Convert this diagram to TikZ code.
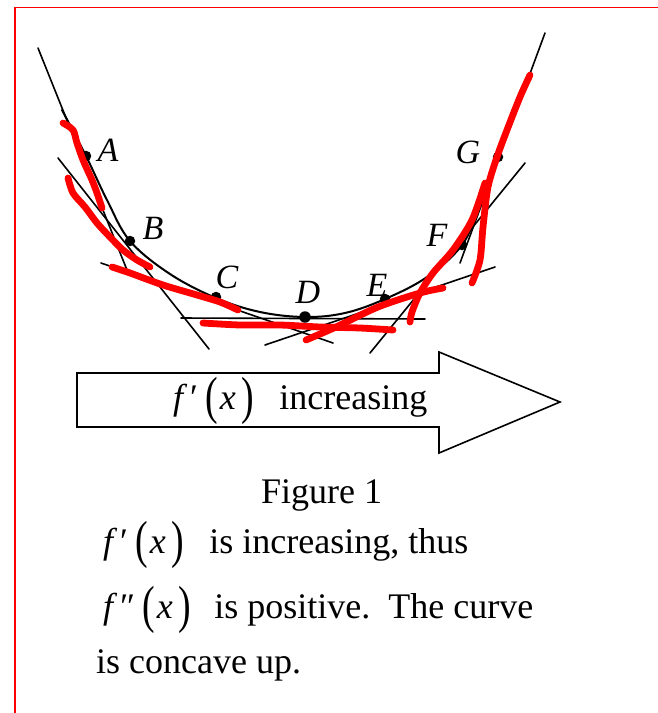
\documentclass[tikz,border=0pt]{standalone}
\usepackage{graphicx}
\usepackage{fontspec}
\setmainfont{Liberation Serif}
\newcommand{\tallparen}[1]{\raisebox{-4pt}{\scalebox{1.05}[1.45]{#1}}}
\newcommand{\fofx}[1]{\textit{f}\kern0.5pt\textit{#1}\kern9pt\tallparen{(}\kern2pt\textit{x}\kern6pt\tallparen{)}}
\begin{document}
\begin{tikzpicture}[x=1pt,y=-1pt,
  tline/.style={line width=1.6pt, line cap=round},
  curveline/.style={line width=2pt, line cap=round},
  dot/.style={circle, fill=black, inner sep=0pt, minimum size=10.5pt},
  lbl/.style={font=\fontsize{34}{34}\selectfont\itshape, inner sep=0pt},
  redmark/.style={red, line width=6.8pt, line cap=round, line join=round},
  txt/.style={font=\fontsize{36}{40}\selectfont, inner sep=0pt, anchor=base west},
  frame/.style={red, line width=1.3pt},
  blockarrow/.style={line width=1.6pt, line join=miter, fill=white}
]
\useasboundingbox (0,0) rectangle (658,713);
\fill[white] (0,0) rectangle (658,713);
\draw[frame] (15,713) -- (15,7.5) -- (658,7.5);

% tangent lines
\coordinate (tA1) at (38,48);   \coordinate (tA2) at (127,270);
\coordinate (tB1) at (58,158);  \coordinate (tB2) at (209,349);
\coordinate (tC1) at (101,263); \coordinate (tC2) at (333,343);
\coordinate (tD1) at (181,318); \coordinate (tD2) at (425,319);
\coordinate (tE1) at (265,345); \coordinate (tE2) at (495,267);
\coordinate (tF1) at (370,353); \coordinate (tF2) at (525,163);
\coordinate (tG1) at (545,33);  \coordinate (tG2) at (460,263);
\foreach \t in {A,B,C,D,E,F,G}{\draw[tline] (t\t1) -- (t\t2);}

% curve
\draw[curveline] plot[smooth, tension=0.6] coordinates {(62,110) (86,156) (107,200) (130,241) (170,274) (216,298) (260,312) (305,317) (345,313) (385,299) (427,277) (462,245) (480,205) (498,158) (515,112)};

% points
\node[dot] (A) at (86,156) {};
\node[dot] (B) at (130,241) {};
\node[dot] (C) at (216,297) {};
\node[dot, minimum size=11.5pt] (D) at (305,317) {};
\node[dot] (E) at (385,299) {};
\node[dot] (F) at (462,245) {};
\node[dot] (G) at (498,157) {};

% red hand-drawn marks
\draw[redmark] plot[smooth] coordinates {(63,123) (73,130) (77,143) (83,160) (92,180) (97,193) (102,208)};
\draw[redmark] plot[smooth] coordinates {(68,178) (73,193) (85,207) (97,223) (110,237) (123,250) (137,260) (150,267)};
\draw[redmark] plot[smooth] coordinates {(112,267) (130,273) (163,285) (197,295) (220,302) (238,310)};
\draw[redmark] plot[smooth] coordinates {(203,323) (240,325) (280,325) (320,327) (360,328) (393,330)};
\draw[redmark] plot[smooth] coordinates {(306,340) (336,327) (378,307) (420,293) (443,288)};
\draw[redmark] plot[smooth] coordinates {(410,322) (412,312) (420,293) (433,273) (453,250) (472,220) (485,183)};
\draw[redmark] plot[smooth] coordinates {(472,283) (480,260) (483,227) (488,187) (497,157) (507,130) (520,97) (530,75)};

% labels
\node[lbl] (lA) at (108,150) {A};
\node[lbl] (lB) at (153,228) {B};
\node[lbl] (lC) at (227,277) {C};
\node[lbl] (lD) at (308,292) {D};
\node[lbl] (lE) at (377,285) {E};
\node[lbl] (lF) at (437,235) {F};
\node[lbl] (lG) at (468,152) {G};

% block arrow
\draw[blockarrow] (77,373) -- (439,373) -- (439,352) -- (560,402) -- (439,453) -- (439,427) -- (77,427) -- cycle;
\node[txt] (arrowtext) at (173,409) {\fofx{′}\kern25pt increasing};

% caption and text
\node[txt, anchor=base] (fig) at (321.5,503) {Figure 1};
\node[txt] (line1) at (103,553) {\fofx{′}\kern25pt is increasing, thus};
\node[txt] (line2) at (103,618) {\fofx{″}\kern23pt is positive.\ \ The curve};
\node[txt] (line3) at (96,673) {is concave up.};
\end{tikzpicture}
\end{document}
